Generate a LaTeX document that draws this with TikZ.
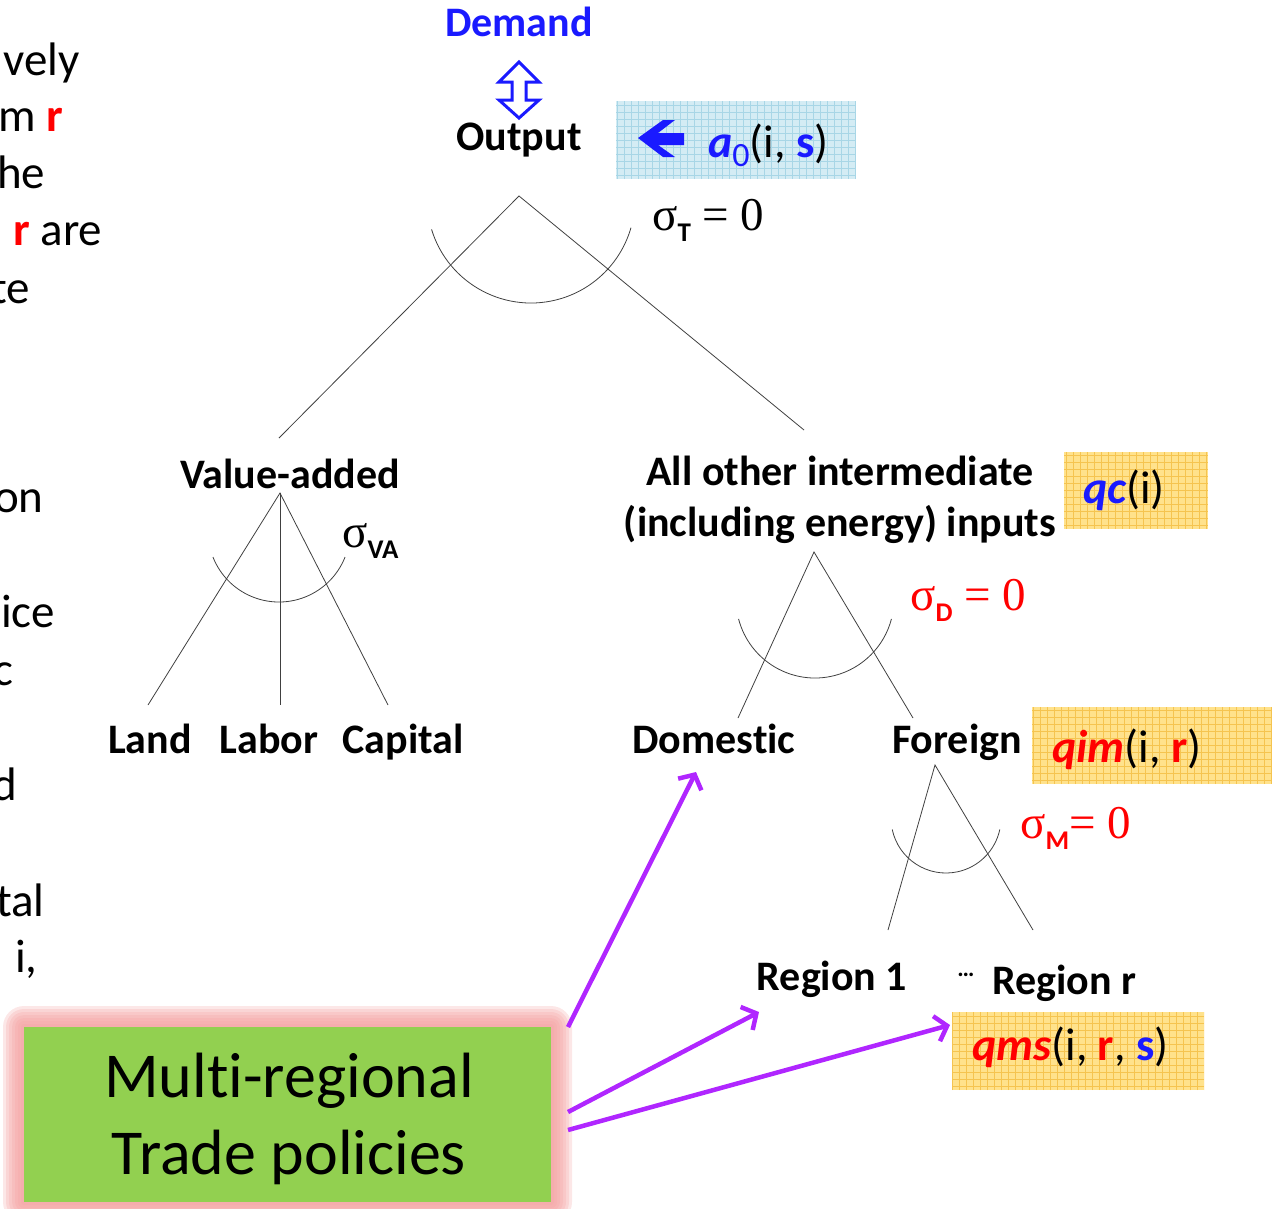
\documentclass[tikz,border=0pt]{standalone}
\usepackage{fontspec}
\setmainfont{Carlito}[Ligatures=NoCommon]
\newfontfamily\symfont{Liberation Serif}
\usetikzlibrary{arrows.meta}

\definecolor{demandblue}{RGB}{26,26,255}
\definecolor{tradepurple}{RGB}{176,38,255}
\definecolor{policygreen}{RGB}{146,208,80}
\definecolor{glowpink}{RGB}{244,160,160}
\definecolor{iceblue}{RGB}{212,236,244}
\definecolor{icegrid}{RGB}{168,214,230}
\definecolor{sandfill}{RGB}{255,226,140}
\definecolor{sandgrid}{RGB}{245,196,80}

% sigma with a bold sans subscript
\newcommand{\sig}[1]{{\symfont σ}\raisebox{-11pt}{\normalfont\bfseries\fontsize{27}{27}\selectfont #1}}

\begin{document}
\begin{tikzpicture}[x=1pt, y=-1pt,
  lbl/.style={font=\fontsize{42}{51}\selectfont\bfseries, inner sep=0pt, anchor=base},
  side/.style={font=\fontsize{47}{52}\selectfont, inner sep=0pt, anchor=base west},
  var/.style={font=\fontsize{46}{52}\selectfont, inner sep=0pt, anchor=base west},
  sigma/.style={font=\fontsize{47}{52}\selectfont\symfont, inner sep=0pt, anchor=base west},
  tree/.style={line width=0.8pt, black!75},
  trade/.style={tradepurple, line width=4.5pt, -{Straight Barb[length=11pt, width=26pt]}},
  icebox/.style={fill=iceblue, inner sep=0pt, path picture={
    \draw[icegrid, line width=0.5pt, step=7pt] (path picture bounding box.south west) grid (path picture bounding box.north east);}},
  sandbox/.style={fill=sandfill, inner sep=0pt, path picture={
    \draw[sandgrid, line width=0.5pt, step=7pt] (path picture bounding box.south west) grid (path picture bounding box.north east);}}]
  \useasboundingbox (0,0) rectangle (1279,1208);

  % text running off the left edge
  \node[side] (f1) at (3,75) {vely};
  \node[side] (f2) at (-2,131) {m \textcolor{red}{\bfseries r}};
  \node[side] (f3) at (-3,188) {he};
  \node[side] (f4) at (13,245) {\textcolor{red}{\bfseries r} are};
  \node[side] (f5) at (-9,303) {te};
  \node[side] (f6) at (-6,512) {on};
  \node[side] (f7) at (1,627) {ice};
  \node[side] (f8) at (-7,685) {c};
  \node[side] (f9) at (-8,800) {d};
  \node[side] (f10) at (-4,916) {tal};
  \node[side] (f11) at (15,972) {i,};

  % top level
  \node[lbl, text=demandblue] (demand) at (519,36) {Demand};
  \node[lbl] (output) at (519,150) {Output};
  \draw[demandblue, line width=3pt, fill=white] (519,62) -- (539,82) -- (526,82) -- (526,100)
    -- (539,100) -- (519,118) -- (499,100) -- (512,100) -- (512,82) -- (499,82) -- cycle;

  \node[icebox, minimum width=240pt, minimum height=78pt] (a0box) at (736,140) {};
  \fill[demandblue] (638,138) -- (663,120) -- (675,120) -- (658,133) -- (684,133)
    -- (684,145) -- (658,145) -- (675,157) -- (663,157) -- cycle;
  \node[var] (a0) at (708,157) {\textcolor{demandblue}{\bfseries\itshape a\raisebox{-9pt}{\normalfont\fontsize{34}{34}\selectfont 0}}(i, \textcolor{demandblue}{\bfseries s})};

  \coordinate (top) at (519,196);
  \coordinate (vaEnd) at (279,438);
  \coordinate (inEnd) at (804,430);
  \coordinate (topArc) at (531,199);
  \draw[tree] (vaEnd) -- (top) -- (inEnd);
  \draw[tree] ([shift={(197:104pt)}]topArc) arc[start angle=197, end angle=344, radius=104pt];
  \node[sigma] (sigT) at (652,230) {\sig{T} = 0};

  % value-added nest
  \node[lbl] (va) at (290,488) {Value-added};
  \node[lbl] (land) at (150,753) {Land};
  \node[lbl] (labor) at (269,753) {Labor};
  \node[lbl] (capital) at (403,753) {Capital};
  \coordinate (vaTop) at (280,493);
  \coordinate (landEnd) at (148,705);
  \coordinate (laborEnd) at (280,705);
  \coordinate (capEnd) at (388,705);
  \coordinate (vaArc) at (279,531);
  \draw[tree] (landEnd) -- (vaTop) -- (capEnd);
  \draw[tree] (vaTop) -- (laborEnd);
  \draw[tree] ([shift={(201.5:71pt)}]vaArc) arc[start angle=201.5, end angle=338.5, radius=71pt];
  \node[sigma] (sigVA) at (342,547) {\sig{VA}};

  % intermediate nest
  \node[lbl, anchor=center, align=center] (inter) at (840,500) {All other intermediate\\(including energy) inputs};
  \node[sandbox, minimum width=144pt, minimum height=77pt] (qcbox) at (1136,490) {};
  \node[var] (qc) at (1083,503) {\textcolor{demandblue}{\bfseries\itshape qc}(i)};
  \node[lbl] (domestic) at (714,753) {Domestic};
  \node[lbl] (foreign) at (957,753) {Foreign};
  \coordinate (inTop) at (814,552);
  \coordinate (domEnd) at (738,718);
  \coordinate (forEnd) at (913,718);
  \coordinate (inArc) at (815,599);
  \draw[tree] (domEnd) -- (inTop) -- (forEnd);
  \draw[tree] ([shift={(194.6:79pt)}]inArc) arc[start angle=194.6, end angle=345.4, radius=79pt];
  \node[sigma, text=red] (sigD) at (910,610) {\sig{D} = 0};

  \node[sandbox, minimum width=240pt, minimum height=77pt] (qimbox) at (1152,745) {};
  \node[var] (qim) at (1052,762) {\textcolor{red}{\bfseries\itshape qim}(i, \textcolor{red}{\bfseries r})};

  % import sourcing nest
  \node[lbl] (region1) at (832,990) {Region 1};
  \node[font=\fontsize{24}{24}\selectfont\bfseries, inner sep=0pt] (dots) at (966,975) {…};
  \node[lbl] (regionr) at (1064,994) {Region r};
  \coordinate (frTop) at (935,765);
  \coordinate (r1End) at (888,930);
  \coordinate (rrEnd) at (1033,930);
  \coordinate (frArc) at (946,818);
  \draw[tree] (r1End) -- (frTop) -- (rrEnd);
  \draw[tree] ([shift={(192:55pt)}]frArc) arc[start angle=192, end angle=348, radius=55pt];
  \node[sigma, text=red] (sigM) at (1020,838) {\sig{M}= 0};

  \node[sandbox, minimum width=252pt, minimum height=78pt] (qmsbox) at (1078,1051) {};
  \node[var] (qms) at (972,1060) {\textcolor{red}{\bfseries\itshape qms}(i, \textcolor{red}{\bfseries r}, \textcolor{demandblue}{\bfseries s})};

  % policy box
  \foreach \g in {3,6,...,21}
    \fill[glowpink, opacity=0.25, rounded corners=\g pt] ({24-\g},{1027-\g}) rectangle ({551+\g},{1202+\g});
  \node[fill=policygreen, minimum width=527pt, minimum height=175pt, inner sep=0pt] (policy) at (287.5,1114.5) {};
  \node[align=center, inner sep=0pt, font=\fontsize{64}{77}\selectfont] (policytext) at (289,1119) {Multi-regional\\Trade policies};

  \coordinate (t1) at (568,1027);
  \coordinate (t2) at (568,1112);
  \coordinate (t3) at (568,1130);
  \coordinate (h1) at (696,772);
  \coordinate (h2) at (759,1012);
  \coordinate (h3) at (950,1025);
  \draw[trade] (t1) -- (h1);
  \draw[trade] (t2) -- (h2);
  \draw[trade] (t3) -- (h3);
\end{tikzpicture}
\end{document}
